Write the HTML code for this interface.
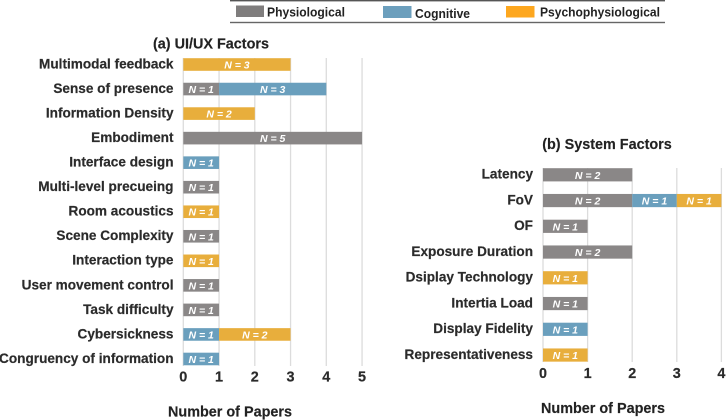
<!DOCTYPE html>
<html lang="en">
<head>
<meta charset="utf-8">
<title>UI/UX and System Factors</title>
<style>
html,body{margin:0;padding:0;background:#fff;width:726px;height:420px;overflow:hidden}
svg{display:block;font-family:"Liberation Sans",sans-serif}
.cat{font-size:13.6px;font-weight:700;fill:#2b2b2b;stroke:#2b2b2b;stroke-width:.2px;text-anchor:end}
.tick{font-size:14.4px;font-weight:700;fill:#2b2b2b;stroke:#2b2b2b;stroke-width:.2px;text-anchor:middle}
.title{font-size:14.4px;font-weight:700;fill:#222;stroke:#222;stroke-width:.15px;text-anchor:middle}
.val{font-size:10.5px;font-weight:700;font-style:italic;fill:#fff;text-anchor:middle}
.leg{font-size:13px;font-weight:700;fill:#222}
</style>
</head>
<body>
<svg id="chart" width="726" height="420" viewBox="0 0 726 420" xmlns="http://www.w3.org/2000/svg">
  <g>
    <rect x="230" y="0" width="435" height="1.4" fill="#555"/>
    <rect x="230" y="21.8" width="435" height="1.4" fill="#666"/>
    <rect x="236" y="5.5" width="28" height="11.5" fill="#7f7d7d"/>
    <text class="leg" x="267" y="16.5" textLength="78" lengthAdjust="spacingAndGlyphs">Physiological</text>
    <rect x="383" y="6" width="28.5" height="12" fill="#6c9fbd"/>
    <text class="leg" x="415" y="18" textLength="55" lengthAdjust="spacingAndGlyphs">Cognitive</text>
    <rect x="506" y="6" width="28.5" height="11.5" fill="#fda71f"/>
    <text class="leg" x="540" y="16.5" textLength="120" lengthAdjust="spacingAndGlyphs">Psychophysiological</text>
  </g>
</svg>
<script>
var seriesNames = ['physiological', 'cognitive', 'psychophysiological'];
var seriesColors = ['#8a8787', '#6a9fbd', '#e8ae3c'];

var uiCategories = ['Multimodal feedback', 'Sense of presence', 'Information Density', 'Embodiment', 'Interface design', 'Multi-level precueing', 'Room acoustics', 'Scene Complexity', 'Interaction type', 'User movement control', 'Task difficulty', 'Cybersickness', 'Congruency of information'];
var uiPhysiological = [0, 1, 0, 5, 0, 1, 0, 1, 0, 1, 1, 0, 0];
var uiCognitive = [0, 3, 0, 0, 1, 0, 0, 0, 0, 0, 0, 1, 1];
var uiPsychophysiological = [3, 0, 2, 0, 0, 0, 1, 0, 1, 0, 0, 2, 0];
var uiTicks = [0, 1, 2, 3, 4, 5];

var sysCategories = ['Latency', 'FoV', 'OF', 'Exposure Duration', 'Dsiplay Technology', 'Intertia Load', 'Display Fidelity', 'Representativeness'];
var sysPhysiological = [2, 2, 1, 2, 0, 1, 0, 0];
var sysCognitive = [0, 1, 0, 0, 0, 0, 1, 0];
var sysPsychophysiological = [0, 1, 0, 0, 1, 0, 0, 1];
var sysTicks = [0, 1, 2, 3, 4];

var svg = document.getElementById('chart');

function make(tag, attrs, text) {
  var el = document.createElementNS('http://www.w3.org/2000/svg', tag);
  for (var k in attrs) el.setAttribute(k, attrs[k]);
  if (text !== undefined) el.textContent = text;
  return el;
}

function slug(s) {
  return s.toLowerCase().replace(/[^a-z0-9]+/g, '-');
}

function drawPanel(p) {
  var g = make('g', {});
  
  
  svg.appendChild(g);

  function xScale(v) { return p.x0 + v * p.unit; }
  function yScale(i) { return p.yFirst + i * p.step; }

  p.ticks.forEach(function (t) {
    var line = make('line', { x1: xScale(t), x2: xScale(t), y1: p.gridTop, y2: p.gridBottom, stroke: '#dcdcdc', 'stroke-width': 1.3 });
    
    
    g.appendChild(line);
    var label = make('text', { 'class': 'tick', x: xScale(t), y: p.tickY }, String(t));
    
    
    g.appendChild(label);
  });

  p.categories.forEach(function (cat, i) {
    var label = make('text', { 'class': 'cat', x: p.labelX, y: yScale(i) + 3.9 }, cat);
    
    
    g.appendChild(label);

    var start = 0;
    p.series.forEach(function (values, s) {
      var v = values[i];
      if (!v) return;
      var bar = make('rect', { x: xScale(start), y: yScale(i) - p.barH / 2, width: xScale(start + v) - xScale(start), height: p.barH, fill: seriesColors[s] });
      
      
      g.appendChild(bar);
      var val = make('text', { 'class': 'val', x: xScale(start + v / 2), y: yScale(i) + 4 }, 'N = ' + v);
      
      
      g.appendChild(val);
      start += v;
    });
  });

  var title = make('text', { 'class': 'title', x: p.titleX, y: p.titleY }, p.title);
  
  
  g.appendChild(title);

  var axis = make('text', { 'class': 'title', x: p.axisX, y: p.axisY }, 'Number of Papers');
  
  
  g.appendChild(axis);
}

drawPanel({
  key: 'ui-ux',
  title: '(a) UI/UX Factors',
  categories: uiCategories,
  series: [uiPhysiological, uiCognitive, uiPsychophysiological],
  ticks: uiTicks,
  x0: 183.3, unit: 35.75, yFirst: 64.5, step: 24.54, barH: 12.6,
  gridTop: 58, gridBottom: 366, labelX: 173.5, tickY: 381.7,
  titleX: 211, titleY: 48.5, axisX: 230, axisY: 416.5
});

drawPanel({
  key: 'system',
  title: '(b) System Factors',
  categories: sysCategories,
  series: [sysPhysiological, sysCognitive, sysPsychophysiological],
  ticks: sysTicks,
  x0: 543, unit: 44.6, yFirst: 174.8, step: 25.75, barH: 13.2,
  gridTop: 168, gridBottom: 362, labelX: 533, tickY: 378,
  titleX: 607, titleY: 149, axisX: 603, axisY: 413
});
</script>
</body>
</html>
